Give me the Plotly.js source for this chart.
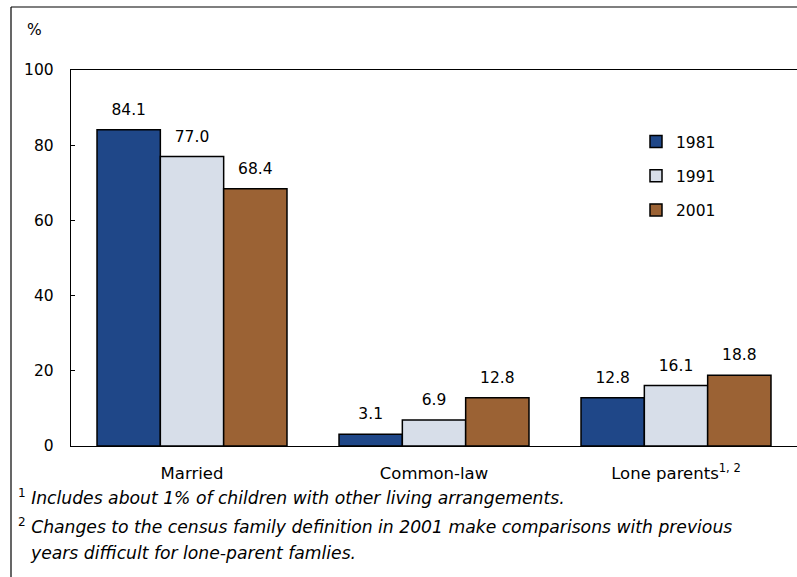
<!DOCTYPE html>
<html>
<head>
<meta charset="utf-8">
<script src="https://cdn.plot.ly/plotly-3.0.1.min.js"></script>
<style>
  html, body { margin: 0; padding: 0; background: #fff; }
  #chart { width: 797px; height: 577px; }
</style>
</head>
<body>
<div id="chart"></div>
<script>
// Children by family structure, census years
const categories = ["Married", "Common-law", "Lone parents<sup>1, 2</sup>"];
const years = ["1981", "1991", "2001"];
const values1981 = [84.1, 3.1, 12.8];
const values1991 = [77.0, 6.9, 16.1];
const values2001 = [68.4, 12.8, 18.8];
const yTicks = [0, 20, 40, 60, 80, 100];
const footnotes = [
  "<sup>1</sup> <i>Includes about 1% of children with other living arrangements.</i>",
  "<sup>2</sup> <i>Changes to the census family definition in 2001 make comparisons with previous</i>",
  "<i>years difficult for lone-parent famlies.</i>"
];

const colors = ["#1f4788", "#d7dee9", "#9b6234"];
const series = [values1981, values1991, values2001];
const FONT = "DejaVu Sans, Arial, sans-serif";

// bars
const bars = series.map((vals, i) => ({
  type: "bar",
  name: years[i],
  x: categories,
  y: vals,
  offsetgroup: "g" + i,
  marker: { color: colors[i], line: { color: "#000", width: 1.5 } },
  legendgroup: "g" + i,
  hoverinfo: "skip"
}));

// value labels, grouped the same way as the bars and lifted above each bar
const labels = series.map((vals, i) => ({
  type: "scatter",
  mode: "markers+text",
  x: categories,
  y: vals,
  offsetgroup: "g" + i,
  text: vals.map(v => v.toFixed(1)),
  textposition: "top center",
  textfont: { family: FONT, size: 15.5, color: "#000" },
  marker: { size: 16, color: "rgba(0,0,0,0)" },
  cliponaxis: false,
  showlegend: false,
  hoverinfo: "skip"
}));

const W = 726, H = 376;      // plot area size in px
const L = 71, T = 70;        // plot area origin in px
const px = x => (x - L) / W; // page px -> paper x
const py = y => 1 - (y - T) / H; // page px -> paper y

const noteFont = { family: FONT, size: 17.2, color: "#000" };

const layout = {
  width: 797,
  height: 577,
  margin: { l: L, r: 0, t: T, b: 577 - T - H },
  paper_bgcolor: "#fff",
  plot_bgcolor: "#fff",
  font: { family: FONT, size: 15.5, color: "#000" },
  barmode: "group",
  bargap: 0.215,
  bargroupgap: 0,
  scattermode: "group",
  scattergap: 0.215,
  showlegend: true,
  legend: {
    x: px(636), y: py(125), xanchor: "left", yanchor: "top",
    bgcolor: "rgba(0,0,0,0)",
    font: { family: FONT, size: 15.5, color: "#000" },
    tracegroupgap: 11,
    itemwidth: 30
  },
  xaxis: {
    range: [-0.5, 2.5],
    showline: true, linecolor: "#000", linewidth: 1.2, mirror: true,
    ticks: "", showgrid: false, zeroline: false,
    tickfont: { family: FONT, size: 16.5, color: "#000" },
    ticklabelstandoff: 12,
    fixedrange: true
  },
  yaxis: {
    range: [0, 100],
    tickvals: yTicks,
    ticktext: yTicks.map(String),
    showline: true, linecolor: "#000", linewidth: 1.2, mirror: true,
    ticks: "inside", ticklen: 4, tickcolor: "#000",
    showgrid: false, zeroline: false,
    tickfont: { family: FONT, size: 15.5, color: "#000" },
    ticklabelstandoff: 13,
    fixedrange: true
  },
  annotations: [
    { xref: "paper", yref: "paper", x: px(25), y: py(30), xanchor: "left", yanchor: "middle",
      text: "%", showarrow: false, font: { family: FONT, size: 15.5, color: "#000" } },
    { xref: "paper", yref: "paper", x: px(16), y: py(497), xanchor: "left", yanchor: "middle",
      text: footnotes[0], showarrow: false, font: noteFont },
    { xref: "paper", yref: "paper", x: px(16), y: py(526), xanchor: "left", yanchor: "middle",
      text: footnotes[1], showarrow: false, font: noteFont },
    { xref: "paper", yref: "paper", x: px(28), y: py(553), xanchor: "left", yanchor: "middle",
      text: footnotes[2], showarrow: false, font: noteFont }
  ],
  shapes: [
    // outer frame: left and top edges
    { type: "line", xref: "paper", yref: "paper", x0: px(11), x1: px(11), y0: py(600), y1: py(7),
      line: { color: "#000", width: 1.2 } },
    { type: "line", xref: "paper", yref: "paper", x0: px(11), x1: px(820), y0: py(7), y1: py(7),
      line: { color: "#000", width: 1.2 } }
  ]
};

Plotly.newPlot("chart", bars.concat(labels), layout, { displayModeBar: false, staticPlot: true });
</script>
</body>
</html>
